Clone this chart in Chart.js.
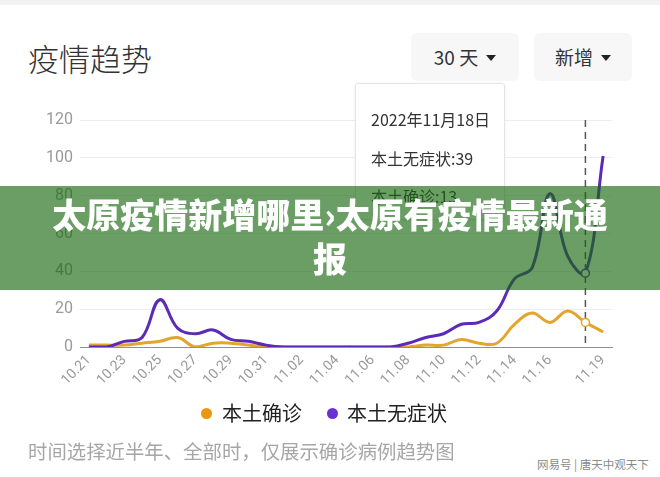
<!DOCTYPE html>
<html>
<head>
<meta charset="utf-8">
<script src="https://cdn.jsdelivr.net/npm/chart.js@4.4.0/dist/chart.umd.min.js"></script>
<style>
  html,body{margin:0;padding:0;background:#fff;}
  body{width:660px;height:477px;position:relative;overflow:hidden;font-family:"Noto Sans CJK SC","Noto Sans",sans-serif;}
  .topbar{position:absolute;left:0;top:0;width:660px;height:5px;background:#f2f2f2;}
  .title{position:absolute;left:28px;top:38px;font-size:31px;line-height:40px;color:#333;font-weight:300;}
  .btn{position:absolute;top:33px;height:48px;background:#f7f7f7;border-radius:6px;font-size:19px;line-height:48px;color:#333;text-align:center;}
  .btn .tri{display:inline-block;width:0;height:0;border-left:5px solid transparent;border-right:5px solid transparent;border-top:6px solid #222;vertical-align:middle;margin-left:8px;margin-top:-3px;}
  #wrap{position:absolute;left:0;top:100px;width:660px;height:300px;}
  .tip{position:absolute;left:355px;top:83px;width:148px;height:135px;background:#fff;border:1px solid #e4e4e4;border-radius:3px;box-shadow:0 1px 4px rgba(0,0,0,0.06);}
  .tip div{position:absolute;left:15px;font-size:16px;color:#333;line-height:20px;white-space:nowrap;}
  .legend{position:absolute;top:401px;left:0;width:660px;height:24px;}
  .legend .dot{position:absolute;top:7px;width:11px;height:11px;border-radius:50%;}
  .legend .lab{position:absolute;top:0;font-size:20px;line-height:24px;color:#222;}
  .caption{position:absolute;left:28px;top:439px;font-size:19.4px;line-height:24px;color:#a6a6a6;white-space:nowrap;}
  .wm{position:absolute;left:537px;top:456px;font-size:11.5px;line-height:16px;color:#8a8a8a;white-space:nowrap;}
  .banner{position:absolute;left:0;top:186px;width:660px;height:104px;background:rgba(22,103,13,0.64);}
  .banner div{position:absolute;left:0;width:660px;text-align:center;color:#fff;font-weight:900;font-size:34px;line-height:44px;white-space:nowrap;}
</style>
</head>
<body>
<div class="topbar"></div>
<div class="title">疫情趋势</div>
<div class="btn" style="left:411px;width:108px;">30 天<span class="tri"></span></div>
<div class="btn" style="left:534px;width:98px;">新增<span class="tri"></span></div>
<div id="wrap"><canvas id="c"></canvas></div>
<div class="tip" id="tip">
  <div id="t1" style="top:25px;"></div>
  <div id="t2" style="top:64px;"></div>
  <div id="t3" style="top:102px;"></div>
</div>
<div class="legend">
  <span class="dot" style="left:201px;background:#e8970f;"></span>
  <span class="lab" style="left:222px;" id="l1"></span>
  <span class="dot" style="left:327px;background:#6a2fd3;"></span>
  <span class="lab" style="left:347px;" id="l2"></span>
</div>
<div class="caption">时间选择近半年、全部时，仅展示确诊病例趋势图</div>
<div class="wm">网易号 | 唐天中观天下</div>
<div class="banner">
  <div style="top:6px;">太原疫情新增哪里›太原有疫情最新通</div>
  <div style="top:50px;">报</div>
</div>
<script>
const year = 2022;
const dates = ["10.21","10.22","10.23","10.24","10.25","10.26","10.27","10.28","10.29","10.30","10.31",
  "11.01","11.02","11.03","11.04","11.05","11.06","11.07","11.08","11.09","11.10","11.11","11.12","11.13",
  "11.14","11.15","11.16","11.17","11.18","11.19"];
const xTickLabels = ["10.21","10.23","10.25","10.27","10.29","10.31","11.02","11.04","11.06","11.08",
  "11.10","11.12","11.14","11.16","11.19"];
const yTicks = [0,20,40,60,80,100,120];
const seriesNames = ["本土确诊","本土无症状"];
const confirmed = [1,1,1,2,3,5,0,2,2,1,0,0,0,0,0,0,0,0,0,1,1,4,2,2,12,18,13,19,13,8];
const asymptomatic = [0,0,3,5,25,10,7,9,4,3,1,0,0,0,0,0,0,0,2,5,7,12,13,19,36,42,81,48,39,101];
const activeIndex = 28;

const orangeC = '#e3a52e';
const purpleC = '#5b2bb8';

document.getElementById('l1').textContent = seriesNames[0];
document.getElementById('l2').textContent = seriesNames[1];
const [mm, dd] = dates[activeIndex].split('.');
document.getElementById('t1').textContent = year + '年' + parseInt(mm) + '月' + parseInt(dd) + '日';
document.getElementById('t2').textContent = seriesNames[1] + ':' + asymptomatic[activeIndex];
document.getElementById('t3').textContent = seriesNames[0] + ':' + confirmed[activeIndex];

const ptR = dates.map((d,i)=> i===activeIndex ? 4 : 0);

const dashPlugin = {
  id:'dash',
  beforeDatasetsDraw(chart){
    const x = chart.scales.x.getPixelForValue(activeIndex);
    const a = chart.chartArea;
    const ctx = chart.ctx;
    ctx.save();
    ctx.strokeStyle = '#555';
    ctx.lineWidth = 1.5;
    ctx.setLineDash([7,5]);
    ctx.beginPath();
    ctx.moveTo(x, a.top);
    ctx.lineTo(x, a.bottom);
    ctx.stroke();
    ctx.restore();
  }
};

new Chart(document.getElementById('c'), {
  type:'line',
  data:{
    labels: dates,
    datasets:[
      {label:seriesNames[1], data:asymptomatic, borderColor:purpleC, borderWidth:3, tension:0.4,
       pointRadius:ptR, pointBackgroundColor:'#fff', pointBorderColor:purpleC, pointBorderWidth:1.5, fill:false},
      {label:seriesNames[0], data:confirmed, borderColor:orangeC, borderWidth:3, tension:0.4,
       pointRadius:ptR, pointBackgroundColor:'#fff', pointBorderColor:orangeC, pointBorderWidth:1.5, fill:false}
    ]
  },
  options:{
    responsive:true, maintainAspectRatio:false, animation:false, events:[],
    layout:{padding:{top:20,right:48,left:0,bottom:0}},
    plugins:{legend:{display:false}, tooltip:{enabled:false}},
    scales:{
      x:{
        offset:true,
        grid:{display:false, drawTicks:false},
        border:{display:true, color:'#8f8f8f', width:1},
        ticks:{autoSkip:false, minRotation:45, maxRotation:45, padding:5, color:'#9a9a9a',
          font:{family:'Roboto, "Noto Sans CJK SC", sans-serif', size:14},
          callback:function(v,i){ const l = dates[i]; return xTickLabels.includes(l) ? l : ''; }},
        afterFit(s){ s.height = 53; }
      },
      y:{
        min:0, max:120,
        afterBuildTicks(s){ s.ticks = yTicks.map(v=>({value:v})); },
        grid:{color:'#ededed', lineWidth:1, drawTicks:false},
        border:{display:false},
        ticks:{padding:7, color:'#9a9a9a', font:{family:'Roboto, "Noto Sans CJK SC", sans-serif', size:16}},
        afterFit(s){ s.width = 80; }
      }
    }
  },
  plugins:[dashPlugin]
});
</script>
</body>
</html>
